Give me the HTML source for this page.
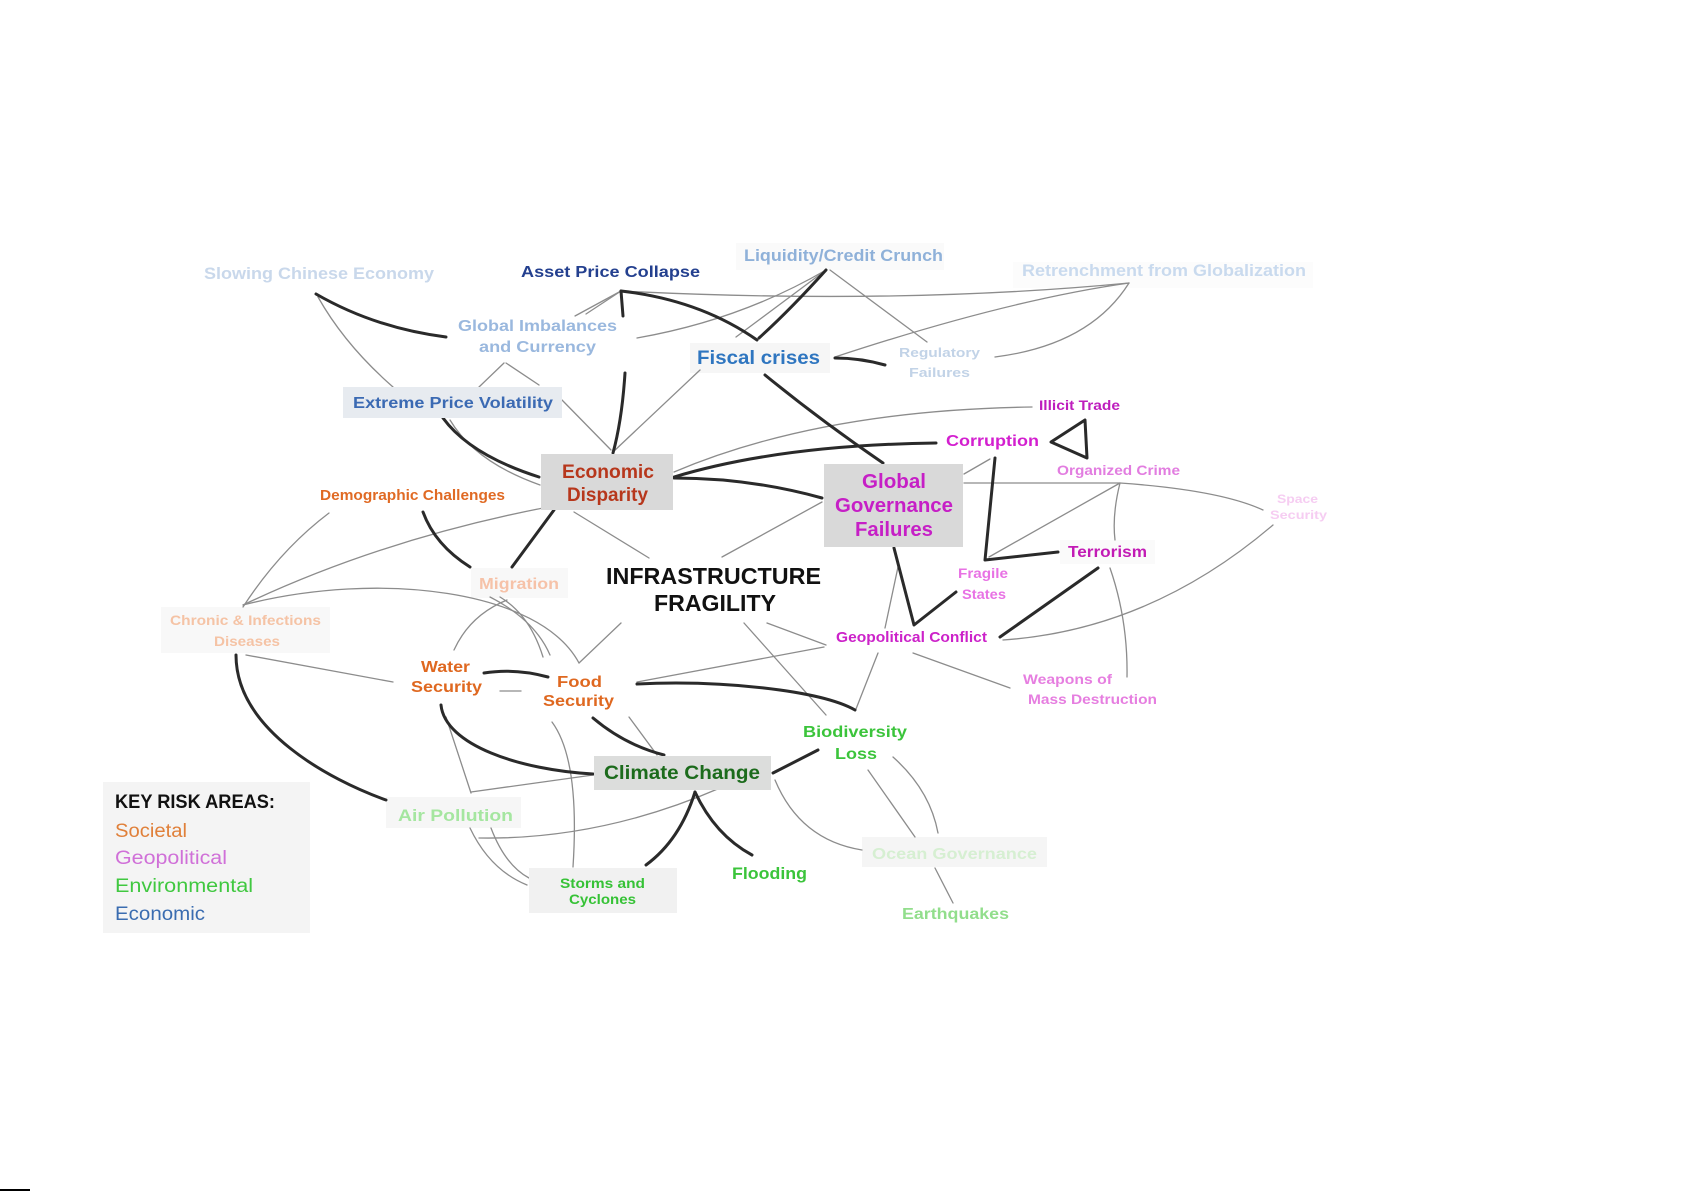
<!DOCTYPE html>
<html><head><meta charset="utf-8">
<style>
html,body{margin:0;padding:0;background:#fff;}
svg{display:block;}
text{font-family:"Liberation Sans",Arial,sans-serif;font-weight:bold;}
.leg{font-family:"Liberation Sans",Arial,sans-serif;font-weight:normal;}
</style></head>
<body>
<svg width="1685" height="1192" viewBox="0 0 1685 1192" xmlns="http://www.w3.org/2000/svg">
<rect width="1685" height="1192" fill="#fff"/>

<!-- faint label boxes -->
<g>
<rect x="736" y="243" width="208" height="27" fill="#fafafa"/>
<rect x="1013" y="262" width="300" height="26" fill="#fcfcfc"/>
<rect x="690" y="343" width="140" height="30" fill="#f6f6f6"/>
<rect x="161" y="607" width="169" height="46" fill="#f8f8f8"/>
<rect x="471" y="568" width="97" height="30" fill="#f8f8f8"/>
<rect x="386" y="797" width="135" height="31" fill="#f6f6f6"/>
<rect x="862" y="837" width="185" height="30" fill="#f5f5f5"/>
<rect x="1060" y="540" width="95" height="24" fill="#fafafa"/>
</g>

<!-- thin edges -->
<g fill="none" stroke="#8c8c8c" stroke-width="1.3" stroke-linecap="round">
<path d="M318,297 Q345,345 393,387"/>
<path d="M504,363 L479,387"/>
<path d="M506,363 L539,385"/>
<path d="M450,420 Q475,462 540,485"/>
<path d="M562,400 L611,450"/>
<path d="M621,291 L575,316"/>
<path d="M621,291 L586,314"/>
<path d="M621,291 Q900,305 1129,283"/>
<path d="M637,338 Q740,320 826,270"/>
<path d="M826,270 L736,337"/>
<path d="M830,270 L927,342"/>
<path d="M835,357 Q1008,300 1129,283"/>
<path d="M995,357 Q1090,345 1129,283"/>
<path d="M613,452 L700,370"/>
<path d="M1032,407 Q820,410 674,472"/>
<path d="M990,459 L964,474"/>
<path d="M964,483 L1120,483 Q1220,490 1263,510"/>
<path d="M1120,483 L989,557"/>
<path d="M1120,483 Q1112,515 1115,540"/>
<path d="M1110,568 Q1128,620 1127,677"/>
<path d="M1273,525 Q1150,630 1003,640"/>
<path d="M898,567 L885,628"/>
<path d="M878,653 L856,709"/>
<path d="M574,512 L649,558"/>
<path d="M822,502 L722,557"/>
<path d="M744,623 L826,715"/>
<path d="M767,623 L826,645"/>
<path d="M824,647 L637,682"/>
<path d="M913,653 L1010,688"/>
<path d="M621,623 L579,663"/>
<path d="M329,513 Q280,550 243,607"/>
<path d="M543,508 Q380,540 243,605"/>
<path d="M243,605 C380,570 540,590 579,663"/>
<path d="M507,600 Q470,615 454,650"/>
<path d="M500,597 Q530,615 543,657"/>
<path d="M490,597 Q535,620 550,655"/>
<path d="M246,655 L393,682"/>
<path d="M500,691 L521,691"/>
<path d="M629,717 L657,755"/>
<path d="M552,722 Q580,760 573,867"/>
<path d="M446,717 L471,793"/>
<path d="M471,792 L593,775"/>
<path d="M470,828 Q490,870 527,885"/>
<path d="M491,828 Q505,865 529,878"/>
<path d="M479,838 Q600,840 720,788"/>
<path d="M775,780 Q800,840 862,850"/>
<path d="M868,770 L915,837"/>
<path d="M893,757 Q930,790 938,833"/>
<path d="M935,868 L953,903"/>
</g>

<!-- thick edges -->
<g fill="none" stroke="#2a2a2a" stroke-width="3" stroke-linecap="round" stroke-linejoin="round">
<path d="M316,294 Q375,328 446,337"/>
<path d="M443,418 Q470,455 539,477"/>
<path d="M621,291 L623,316"/>
<path d="M625,373 Q622,420 613,453"/>
<path d="M621,291 Q700,300 757,340"/>
<path d="M826,270 Q790,310 759,338"/>
<path d="M835,358 Q860,358 885,365"/>
<path d="M765,375 Q820,420 883,463"/>
<path d="M936,443 Q780,445 674,477"/>
<path d="M822,498 Q750,478 674,478"/>
<path d="M1051,442 L1085,420 L1087,458 Z"/>
<path d="M995,458 L985,560 L1058,552"/>
<path d="M1098,568 L1000,637"/>
<path d="M894,548 L914,625 L956,592"/>
<path d="M637,684 C720,680 820,690 855,710"/>
<path d="M423,512 Q435,545 470,567"/>
<path d="M554,510 L512,567"/>
<path d="M484,673 Q515,668 548,677"/>
<path d="M236,655 C236,730 330,780 386,800"/>
<path d="M441,705 C445,745 520,770 593,774"/>
<path d="M593,718 Q625,745 664,755"/>
<path d="M695,792 Q680,840 646,865"/>
<path d="M695,792 Q715,835 752,855"/>
<path d="M773,773 L818,750"/>
</g>

<!-- solid boxes -->
<rect x="343" y="387" width="219" height="31" fill="#e7ebf0"/>
<rect x="541" y="454" width="132" height="56" fill="#d9d9d9"/>
<rect x="824" y="464" width="139" height="83" fill="#d9d9d9"/>
<rect x="594" y="756" width="177" height="34" fill="#dcdddc"/>
<rect x="529" y="868" width="148" height="45" fill="#f1f1f1"/>
<rect x="103" y="782" width="207" height="151" fill="#f4f4f4"/>

<!-- labels -->
<g lengthAdjust="spacingAndGlyphs">
<text x="204" y="279" font-size="17" fill="#c9d8eb" textLength="230" lengthAdjust="spacingAndGlyphs">Slowing Chinese Economy</text>
<text x="521" y="277" font-size="16" fill="#24408f" textLength="179" lengthAdjust="spacingAndGlyphs">Asset Price Collapse</text>
<text x="744" y="261" font-size="17" fill="#8fb1d9" textLength="199" lengthAdjust="spacingAndGlyphs">Liquidity/Credit Crunch</text>
<text x="1022" y="276" font-size="17" fill="#c9daee" textLength="284" lengthAdjust="spacingAndGlyphs">Retrenchment from Globalization</text>
<text x="458" y="331" font-size="16" fill="#9ab8de" textLength="159" lengthAdjust="spacingAndGlyphs">Global Imbalances</text>
<text x="479" y="352" font-size="16" fill="#9ab8de" textLength="117" lengthAdjust="spacingAndGlyphs">and Currency</text>
<text x="697" y="364" font-size="19" fill="#2f76c0" textLength="123" lengthAdjust="spacingAndGlyphs">Fiscal crises</text>
<text x="899" y="357" font-size="13" fill="#c2d3e7" textLength="81" lengthAdjust="spacingAndGlyphs">Regulatory</text>
<text x="909" y="377" font-size="13" fill="#c2d3e7" textLength="61" lengthAdjust="spacingAndGlyphs">Failures</text>
<text x="353" y="408" font-size="16" fill="#3b6ab3" textLength="200" lengthAdjust="spacingAndGlyphs">Extreme Price Volatility</text>
<text x="562" y="478" font-size="19" fill="#b7371c" textLength="92" lengthAdjust="spacingAndGlyphs">Economic</text>
<text x="567" y="501" font-size="19" fill="#b7371c" textLength="81" lengthAdjust="spacingAndGlyphs">Disparity</text>
<text x="320" y="500" font-size="15" fill="#e06a24" textLength="185" lengthAdjust="spacingAndGlyphs">Demographic Challenges</text>
<text x="946" y="446" font-size="16" fill="#d31fcf" textLength="93" lengthAdjust="spacingAndGlyphs">Corruption</text>
<text x="1039" y="410" font-size="14" fill="#be1dbd" textLength="81" lengthAdjust="spacingAndGlyphs">Illicit Trade</text>
<text x="1057" y="475" font-size="14" fill="#e27de0" textLength="123" lengthAdjust="spacingAndGlyphs">Organized Crime</text>
<text x="862" y="488" font-size="20" fill="#c61fc6" textLength="64" lengthAdjust="spacingAndGlyphs">Global</text>
<text x="835" y="512" font-size="20" fill="#c61fc6" textLength="118" lengthAdjust="spacingAndGlyphs">Governance</text>
<text x="855" y="536" font-size="20" fill="#c61fc6" textLength="78" lengthAdjust="spacingAndGlyphs">Failures</text>
<text x="606" y="584" font-size="23" fill="#111" textLength="215" lengthAdjust="spacingAndGlyphs">INFRASTRUCTURE</text>
<text x="654" y="611" font-size="23" fill="#111" textLength="122" lengthAdjust="spacingAndGlyphs">FRAGILITY</text>
<text x="1068" y="557" font-size="16" fill="#c21bb5" textLength="79" lengthAdjust="spacingAndGlyphs">Terrorism</text>
<text x="1277" y="503" font-size="12" fill="#f6cdf2" textLength="41" lengthAdjust="spacingAndGlyphs">Space</text>
<text x="1270" y="519" font-size="12" fill="#f6cdf2" textLength="57" lengthAdjust="spacingAndGlyphs">Security</text>
<text x="958" y="578" font-size="14" fill="#e872e4" textLength="50" lengthAdjust="spacingAndGlyphs">Fragile</text>
<text x="962" y="599" font-size="14" fill="#e872e4" textLength="44" lengthAdjust="spacingAndGlyphs">States</text>
<text x="836" y="642" font-size="15" fill="#cc22c9" textLength="151" lengthAdjust="spacingAndGlyphs">Geopolitical Conflict</text>
<text x="1023" y="684" font-size="14" fill="#e67ee0" textLength="89" lengthAdjust="spacingAndGlyphs">Weapons of</text>
<text x="1028" y="704" font-size="14" fill="#e67ee0" textLength="129" lengthAdjust="spacingAndGlyphs">Mass Destruction</text>
<text x="479" y="589" font-size="16" fill="#f6c2a8" textLength="80" lengthAdjust="spacingAndGlyphs">Migration</text>
<text x="170" y="625" font-size="14" fill="#f5c3a5" textLength="151" lengthAdjust="spacingAndGlyphs">Chronic &amp; Infections</text>
<text x="214" y="646" font-size="14" fill="#f5c3a5" textLength="66" lengthAdjust="spacingAndGlyphs">Diseases</text>
<text x="421" y="672" font-size="16" fill="#df6820" textLength="49" lengthAdjust="spacingAndGlyphs">Water</text>
<text x="411" y="692" font-size="16" fill="#df6820" textLength="71" lengthAdjust="spacingAndGlyphs">Security</text>
<text x="557" y="687" font-size="16" fill="#df6820" textLength="45" lengthAdjust="spacingAndGlyphs">Food</text>
<text x="543" y="706" font-size="16" fill="#df6820" textLength="71" lengthAdjust="spacingAndGlyphs">Security</text>
<text x="604" y="779" font-size="19" fill="#1c6b1c" textLength="156" lengthAdjust="spacingAndGlyphs">Climate Change</text>
<text x="398" y="821" font-size="17" fill="#a5e6a0" textLength="115" lengthAdjust="spacingAndGlyphs">Air Pollution</text>
<text x="560" y="888" font-size="14" fill="#36c236" textLength="85" lengthAdjust="spacingAndGlyphs">Storms and</text>
<text x="569" y="904" font-size="14" fill="#36c236" textLength="67" lengthAdjust="spacingAndGlyphs">Cyclones</text>
<text x="732" y="879" font-size="17" fill="#3bc43b" textLength="75" lengthAdjust="spacingAndGlyphs">Flooding</text>
<text x="803" y="737" font-size="16" fill="#3bc43b" textLength="104" lengthAdjust="spacingAndGlyphs">Biodiversity</text>
<text x="835" y="759" font-size="16" fill="#3bc43b" textLength="42" lengthAdjust="spacingAndGlyphs">Loss</text>
<text x="872" y="859" font-size="16" fill="#d6efd2" textLength="165" lengthAdjust="spacingAndGlyphs">Ocean Governance</text>
<text x="902" y="919" font-size="16" fill="#92de8c" textLength="107" lengthAdjust="spacingAndGlyphs">Earthquakes</text>
</g>

<!-- legend -->
<text x="115" y="808" font-size="19" fill="#111" textLength="160" lengthAdjust="spacingAndGlyphs">KEY RISK AREAS:</text>
<text class="leg" x="115" y="837" font-size="19" fill="#e0803a" textLength="72" lengthAdjust="spacingAndGlyphs">Societal</text>
<text class="leg" x="115" y="864" font-size="19" fill="#d070d8" textLength="112" lengthAdjust="spacingAndGlyphs">Geopolitical</text>
<text class="leg" x="115" y="892" font-size="19" fill="#40c840" textLength="138" lengthAdjust="spacingAndGlyphs">Environmental</text>
<text class="leg" x="115" y="920" font-size="19" fill="#3a6cb0" textLength="90" lengthAdjust="spacingAndGlyphs">Economic</text>

<line x1="0" y1="1190" x2="30" y2="1190" stroke="#000" stroke-width="2"/>
</svg>
</body></html>
